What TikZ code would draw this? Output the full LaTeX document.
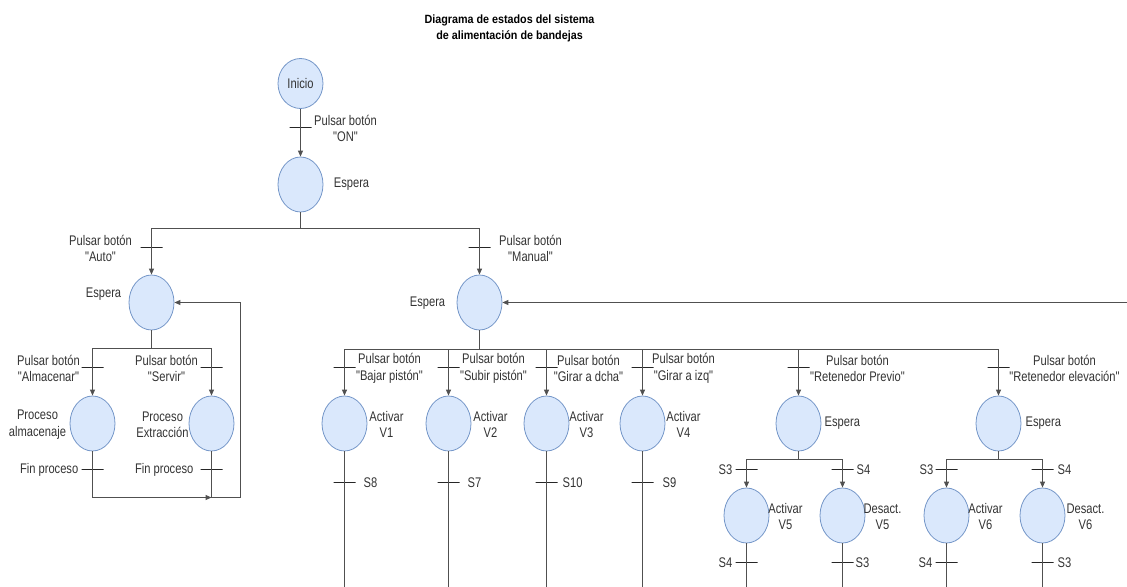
\documentclass[tikz,border=0pt]{standalone}
\usepackage{fontspec}
\setmainfont{Liberation Sans}[FakeStretch=0.8, Ligatures=TeXOff]
\newfontfamily\titfont{Liberation Sans}[FakeStretch=0.9]
\usetikzlibrary{arrows.meta, shapes.geometric}

\definecolor{estfill}{HTML}{DAE8FC}
\definecolor{estline}{HTML}{7496C8}
\definecolor{linea}{HTML}{505050}
\definecolor{texto}{HTML}{333333}

\tikzset{
  estado/.style={ellipse, draw=estline, fill=estfill, line width=0.8pt,
    minimum width=45bp, minimum height=55bp, inner sep=0pt, text=texto,
    font=\fontsize{14}{16}\selectfont},
  barra/.style={draw=black!85, line width=1bp, minimum width=22bp,
    minimum height=0pt, inner sep=0pt, outer sep=0pt},
  conn/.style={draw=linea, line width=1bp},
  flecha/.style={conn, -{Triangle[length=6pt, width=5pt]}},
  etq/.style={text=texto, font=\fontsize{14}{16.5}\selectfont, align=center, inner sep=0pt},
  titulo/.style={text=black, font=\titfont\bfseries\fontsize{12}{16}\selectfont, align=center, inner sep=0pt}
}

\begin{document}
\begin{tikzpicture}[x=1bp, y=-1bp]
  % \draw[help lines, gray!50, very thin] (0,0) grid[step=50] (1127,587);
  \useasboundingbox (0,0) rectangle (1127,587);
  \clip (0,0) rectangle (1127,587);
  \begin{scope}[shift={(0.5,0.5)}]

  \node[titulo] (tit) at (509,28) {Diagrama de estados del sistema\\de alimentación de bandejas};

  % arranque
  \node[estado, minimum height=50bp] (ini) at (300,83) {Inicio};
  \node[barra] (t0) at (300,127) {};
  \node[etq] (l0) at (345,128) {Pulsar botón\\"ON"};
  \node[estado] (esp0) at (300,184) {};
  \node[etq] (le0) at (351,184) {Espera};
  \draw[flecha] (ini) -- (t0.center) -- (esp0);
  \coordinate (r0) at (300,228);
  \draw[conn] (esp0) -- (r0);

  % modo auto
  \node[barra] (tA) at (151,247) {};
  \node[etq] (lA) at (100,248) {Pulsar botón\\"Auto"};
  \node[estado] (espA) at (151,302) {};
  \node[etq] (leA) at (103,294) {Espera};
  \draw[flecha] (r0) -| (tA.center) -- (espA);
  \coordinate (rA) at (151,348);
  \draw[conn] (espA) -- (rA);

  \node[barra] (tAl) at (92,367) {};
  \node[etq] (lAl) at (48,368) {Pulsar botón\\"Almacenar"};
  \node[barra] (tSe) at (211,367) {};
  \node[etq] (lSe) at (166,368) {Pulsar botón\\"Servir"};
  \node[estado] (alm) at (92,423) {};
  \node[etq] (lalm) at (37,424) {Proceso\\almacenaje};
  \node[estado] (ext) at (211,423) {};
  \node[etq] (lext) at (162,424) {Proceso\\Extracción};
  \draw[flecha] (rA) -| (tAl.center) -- (alm);
  \draw[flecha] (rA) -| (tSe.center) -- (ext);

  \node[barra] (fAl) at (92,469) {};
  \node[etq, anchor=east] (lfAl) at (78,469) {Fin proceso};
  \node[barra] (fEx) at (211,469) {};
  \node[etq, anchor=east] (lfEx) at (193,469) {Fin proceso};
  \coordinate (bA) at (211,497);
  \coordinate (vA) at (240,497);
  \draw[flecha] (alm) -- (fAl.center) |- (bA);
  \draw[flecha] (ext) -- (fEx.center) -- (bA) -- (vA) |- (espA.east);

  % modo manual
  \node[barra] (tM) at (479,247) {};
  \node[etq] (lM) at (530,248) {Pulsar botón\\"Manual"};
  \node[estado] (espM) at (479,302) {};
  \node[etq] (leM) at (427,303) {Espera};
  \draw[flecha] (r0) -| (tM.center) -- (espM);
  \coordinate (fb) at (1140,302);
  \draw[flecha] (fb) -- (espM.east);
  \coordinate (rM) at (479,349);
  \draw[conn] (espM) -- (rM);

  % valvulas V1..V4
  \node[barra] (t1) at (344,367) {};
  \node[etq] (l1) at (389,368) {Pulsar botón\\"Bajar pistón"};
  \node[estado] (v1) at (344,423) {};
  \node[etq] (lv1) at (386,424) {Activar\\V1};
  \node[barra] (s1) at (344,482) {};
  \node[etq, anchor=west] (ls1) at (363,482) {S8};
  \coordinate (b1) at (344,600);
  \draw[flecha] (rM) -| (t1.center) -- (v1);
  \draw[conn] (v1) -- (s1.center) -- (b1);

  \node[barra] (t2) at (448,367) {};
  \node[etq] (l2) at (493,368) {Pulsar botón\\"Subir pistón"};
  \node[estado] (v2) at (448,423) {};
  \node[etq] (lv2) at (490,424) {Activar\\V2};
  \node[barra] (s2) at (448,482) {};
  \node[etq, anchor=west] (ls2) at (467,482) {S7};
  \coordinate (b2) at (448,600);
  \draw[flecha] (rM) -| (t2.center) -- (v2);
  \draw[conn] (v2) -- (s2.center) -- (b2);

  \node[barra] (t3) at (546,367) {};
  \node[etq] (l3) at (588,368) {Pulsar botón\\"Girar a dcha"};
  \node[estado] (v3) at (546,423) {};
  \node[etq] (lv3) at (586,424) {Activar\\V3};
  \node[barra] (s3) at (546,482) {};
  \node[etq, anchor=west] (ls3) at (562,482) {S10};
  \coordinate (b3) at (546,600);
  \draw[flecha] (rM) -| (t3.center) -- (v3);
  \draw[conn] (v3) -- (s3.center) -- (b3);

  \node[barra] (t4) at (642,367) {};
  \node[etq] (l4) at (683,368) {Pulsar botón\\"Girar a izq"};
  \node[estado] (v4) at (642,423) {};
  \node[etq] (lv4) at (683,424) {Activar\\V4};
  \node[barra] (s4) at (642,482) {};
  \node[etq, anchor=west] (ls4) at (662,482) {S9};
  \coordinate (b4) at (642,600);
  \draw[flecha] (rM) -| (t4.center) -- (v4);
  \draw[conn] (v4) -- (s4.center) -- (b4);

  % retenedor previo
  \node[barra] (t5) at (798,367) {};
  \node[etq] (l5) at (857,368) {Pulsar botón\\"Retenedor Previo"};
  \node[estado] (e5) at (798,423) {};
  \node[etq, anchor=west] (le5) at (824,423) {Espera};
  \draw[flecha] (rM) -| (t5.center) -- (e5);
  \coordinate (r5) at (798,459);
  \draw[conn] (e5) -- (r5);

  \node[barra] (t5a) at (746,469) {};
  \node[etq, anchor=east] (l5a) at (732,469) {S3};
  \node[barra] (t5b) at (842,469) {};
  \node[etq, anchor=west] (l5b) at (856,469) {S4};
  \node[estado] (v5a) at (746,515) {};
  \node[etq] (lv5a) at (785,516) {Activar\\V5};
  \node[estado] (v5b) at (842,515) {};
  \node[etq] (lv5b) at (882,516) {Desact.\\V5};
  \draw[flecha] (r5) -| (t5a.center) -- (v5a);
  \draw[flecha] (r5) -| (t5b.center) -- (v5b);

  \node[barra] (s5a) at (746,562) {};
  \node[etq, anchor=east] (ls5a) at (732,562) {S4};
  \node[barra] (s5b) at (842,562) {};
  \node[etq, anchor=west] (ls5b) at (855,562) {S3};
  \coordinate (b5a) at (746,600);
  \coordinate (b5b) at (842,600);
  \draw[conn] (v5a) -- (s5a.center) -- (b5a);
  \draw[conn] (v5b) -- (s5b.center) -- (b5b);

  % retenedor elevacion
  \node[barra] (t6) at (998,367) {};
  \node[etq] (l6) at (1064,368) {Pulsar botón\\"Retenedor elevación"};
  \node[estado] (e6) at (998,423) {};
  \node[etq, anchor=west] (le6) at (1025,423) {Espera};
  \draw[flecha] (rM) -| (t6.center) -- (e6);
  \coordinate (r6) at (998,459);
  \draw[conn] (e6) -- (r6);

  \node[barra] (t6a) at (946,469) {};
  \node[etq, anchor=east] (l6a) at (933,469) {S3};
  \node[barra] (t6b) at (1042,469) {};
  \node[etq, anchor=west] (l6b) at (1057,469) {S4};
  \node[estado] (v6a) at (946,515) {};
  \node[etq] (lv6a) at (985,516) {Activar\\V6};
  \node[estado] (v6b) at (1042,515) {};
  \node[etq] (lv6b) at (1085,516) {Desact.\\V6};
  \draw[flecha] (r6) -| (t6a.center) -- (v6a);
  \draw[flecha] (r6) -| (t6b.center) -- (v6b);

  \node[barra] (s6a) at (946,562) {};
  \node[etq, anchor=east] (ls6a) at (932,562) {S4};
  \node[barra] (s6b) at (1042,562) {};
  \node[etq, anchor=west] (ls6b) at (1057,562) {S3};
  \coordinate (b6a) at (946,600);
  \coordinate (b6b) at (1042,600);
  \draw[conn] (v6a) -- (s6a.center) -- (b6a);
  \draw[conn] (v6b) -- (s6b.center) -- (b6b);
  \end{scope}
\end{tikzpicture}
\end{document}
